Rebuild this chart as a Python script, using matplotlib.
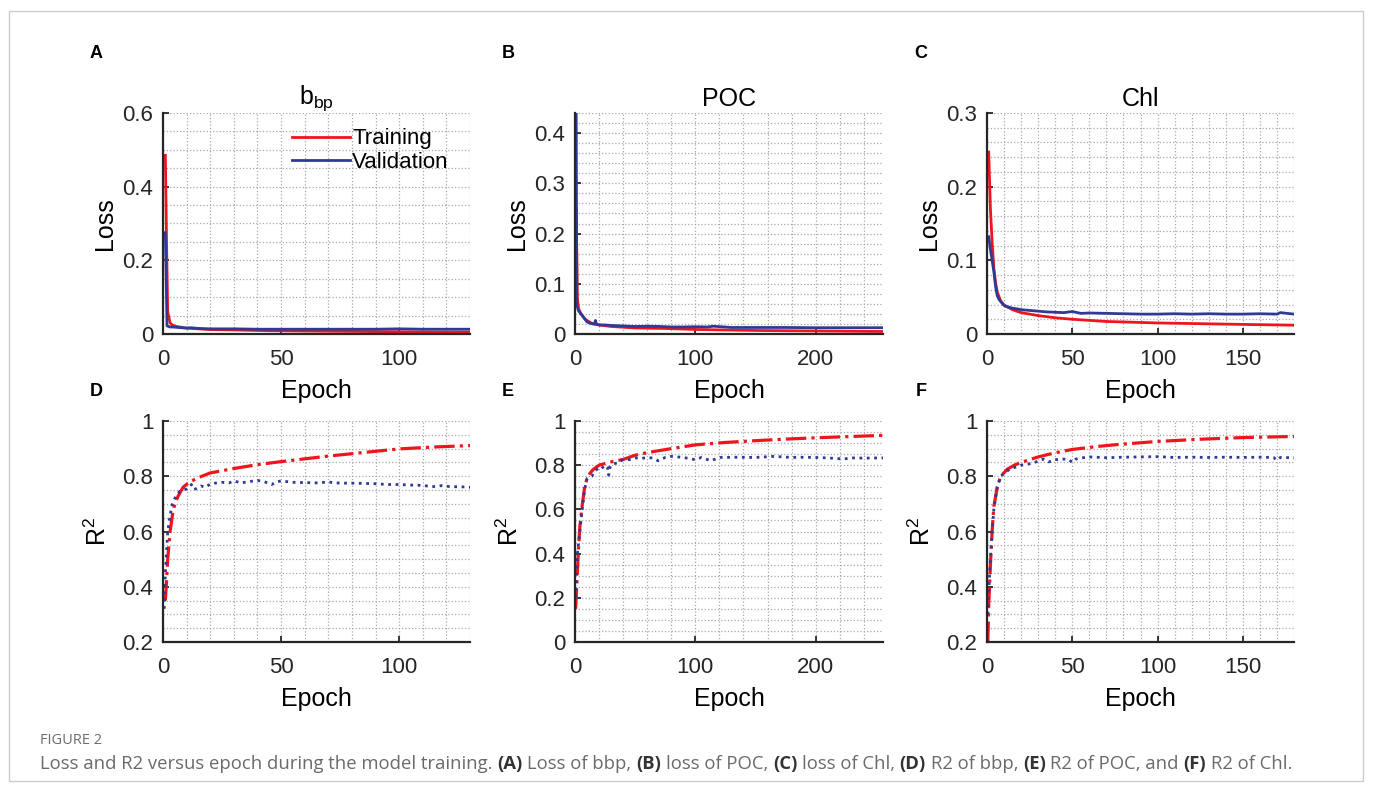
"""Loss and R2 versus epoch for the bbp / POC / Chl models (six-panel figure)."""

import matplotlib

matplotlib.use("Agg")

import matplotlib.pyplot as plt
from matplotlib.patches import Rectangle
from matplotlib.ticker import MultipleLocator

# ── Data ─────────────────────────────────────────────────────────────────────

# (A) loss of bbp
A_TRAIN_EP = [1, 1.5, 2, 3, 4, 6, 10, 15, 20, 30, 45, 60, 80, 100, 115, 130]
A_TRAIN = [0.485, 0.25, 0.06, 0.03, 0.024, 0.02, 0.016, 0.014, 0.012, 0.011,
           0.009, 0.008, 0.007, 0.006, 0.0055, 0.005]
A_VAL_EP = [1, 1.7, 3, 4, 6, 8, 10, 12, 15, 20, 30, 40, 50, 60, 70, 80, 90,
            100, 110, 120, 130]
A_VAL = [0.275, 0.022, 0.019, 0.019, 0.018, 0.017, 0.016, 0.017, 0.015, 0.014,
         0.014, 0.013, 0.013, 0.013, 0.013, 0.013, 0.013, 0.014, 0.013, 0.013, 0.013]

# (B) loss of POC
B_TRAIN_EP = [1, 2, 3, 5, 8, 12, 15, 20, 30, 50, 75, 100, 150, 200, 256]
B_TRAIN = [0.25, 0.07, 0.05, 0.04, 0.03, 0.024, 0.02, 0.018, 0.015, 0.012,
           0.011, 0.009, 0.007, 0.006, 0.005]
B_VAL_EP = [1, 1.5, 3, 5, 7, 10, 13, 16, 17, 18, 20, 25, 30, 40, 50, 60, 70,
            80, 90, 100, 110, 115, 130, 150, 175, 200, 225, 256]
B_VAL = [0.44, 0.057, 0.046, 0.04, 0.034, 0.024, 0.021, 0.02, 0.027, 0.019,
         0.018, 0.018, 0.017, 0.016, 0.015, 0.0155, 0.015, 0.014, 0.014, 0.0145,
         0.014, 0.0155, 0.013, 0.013, 0.013, 0.0125, 0.0125, 0.0125]

# (C) loss of Chl
C_TRAIN_EP = [1, 2, 3, 4, 5, 6, 8, 10, 15, 20, 30, 40, 50, 70, 100, 125, 150, 180]
C_TRAIN = [0.247, 0.17, 0.125, 0.09, 0.07, 0.057, 0.045, 0.039, 0.033, 0.029,
           0.025, 0.022, 0.020, 0.017, 0.015, 0.014, 0.013, 0.012]
C_VAL_EP = [1, 2, 3, 4, 5, 6, 7, 8, 10, 12, 15, 18, 20, 25, 30, 35, 40, 45, 50,
            55, 60, 70, 80, 90, 100, 110, 120, 130, 140, 150, 160, 170, 172, 180]
C_VAL = [0.132, 0.115, 0.1, 0.085, 0.065, 0.052, 0.047, 0.044, 0.039, 0.037,
         0.035, 0.034, 0.033, 0.032, 0.031, 0.030, 0.0295, 0.029, 0.0305, 0.028,
         0.0285, 0.028, 0.0275, 0.027, 0.027, 0.0275, 0.027, 0.0275, 0.027, 0.027,
         0.0275, 0.027, 0.029, 0.027]

# (D) R2 of bbp
D_TRAIN_EP = [1, 1.5, 2, 3, 4, 5, 6.5, 8.5, 11, 15, 20, 30, 40, 50, 70, 85,
              100, 115, 130]
D_TRAIN = [0.35, 0.42, 0.5, 0.6, 0.66, 0.70, 0.73, 0.76, 0.778, 0.795, 0.812,
           0.828, 0.842, 0.853, 0.873, 0.886, 0.899, 0.906, 0.911]
D_VAL_EP = [0.5, 1, 2, 3, 4, 5, 7, 9, 10, 12, 13, 14, 16, 18, 20, 22, 25, 28,
            30, 33, 36, 40, 43, 46, 48, 50, 55, 60, 65, 70, 75, 80, 85, 90, 95,
            100, 105, 110, 114, 118, 122, 126, 130]
D_VAL = [0.32, 0.45, 0.6, 0.66, 0.7, 0.72, 0.745, 0.75, 0.755, 0.77, 0.752,
         0.755, 0.765, 0.76, 0.772, 0.775, 0.778, 0.776, 0.783, 0.776, 0.78,
         0.785, 0.78, 0.77, 0.78, 0.783, 0.778, 0.777, 0.776, 0.779, 0.775,
         0.775, 0.774, 0.773, 0.77, 0.77, 0.768, 0.767, 0.762, 0.766, 0.762,
         0.762, 0.76]

# (E) R2 of POC
E_TRAIN_EP = [0.5, 1, 2, 3, 4, 6, 8, 10, 12, 15, 20, 25, 30, 40, 50, 60, 80,
              100, 125, 150, 175, 200, 225, 256]
E_TRAIN = [0.15, 0.2, 0.32, 0.43, 0.52, 0.62, 0.7, 0.74, 0.76, 0.78, 0.8,
           0.808, 0.815, 0.826, 0.845, 0.857, 0.875, 0.892, 0.903, 0.911, 0.918,
           0.924, 0.929, 0.935]
E_VAL_EP = [0.5, 1, 2, 3, 4, 6, 8, 10, 12, 14, 16, 18, 20, 22, 25, 27, 28, 29,
            31, 35, 40, 45, 50, 55, 60, 65, 69, 75, 80, 90, 100, 105, 113, 120,
            135, 150, 165, 180, 190, 200, 210, 223, 230, 240, 256]
E_VAL = [0.2, 0.26, 0.4, 0.45, 0.5, 0.6, 0.69, 0.74, 0.745, 0.75, 0.77, 0.78,
         0.79, 0.785, 0.8, 0.79, 0.755, 0.79, 0.805, 0.81, 0.825, 0.825, 0.833,
         0.83, 0.835, 0.832, 0.82, 0.835, 0.84, 0.835, 0.825, 0.835, 0.82,
         0.835, 0.836, 0.835, 0.84, 0.835, 0.836, 0.835, 0.833, 0.828, 0.833,
         0.832, 0.833]

# (F) R2 of Chl
F_TRAIN_EP = [0.5, 1, 2, 3, 4, 6, 8, 12, 16, 20, 30, 40, 50, 65, 77, 100, 125,
              150, 180]
F_TRAIN = [0.2, 0.33, 0.48, 0.6, 0.69, 0.76, 0.80, 0.826, 0.84, 0.85, 0.87,
           0.885, 0.897, 0.908, 0.915, 0.926, 0.934, 0.94, 0.944]
F_VAL_EP = [0.5, 1, 2, 3, 4, 6, 8, 10, 12, 15, 18, 20, 23, 25, 28, 30, 33, 36,
            38, 40, 45, 48, 50, 52, 55, 60, 70, 80, 90, 100, 110, 120, 130, 140,
            150, 160, 168, 170, 172, 180]
F_VAL = [0.3, 0.38, 0.5, 0.6, 0.68, 0.76, 0.8, 0.81, 0.82, 0.83, 0.835, 0.84,
         0.843, 0.845, 0.85, 0.855, 0.862, 0.852, 0.855, 0.86, 0.862, 0.86,
         0.85, 0.862, 0.866, 0.87, 0.867, 0.869, 0.87, 0.871, 0.868, 0.869,
         0.868, 0.869, 0.868, 0.869, 0.868, 0.858, 0.868, 0.867]

PANEL_LETTERS = ["A", "B", "C", "D", "E", "F"]
TITLES = ["b$_{bp}$", "POC", "Chl"]
CAPTION_HEAD = "FIGURE 2"
# (text, bold) pieces of the caption
CAPTION_PARTS = [
    ("Loss and R2 versus epoch during the model training.", False),
    ("(A)", True), ("Loss of bbp,", False),
    ("(B)", True), ("loss of POC,", False),
    ("(C)", True), ("loss of Chl,", False),
    ("(D)", True), ("R2 of bbp,", False),
    ("(E)", True), ("R2 of POC, and", False),
    ("(F)", True), ("R2 of Chl.", False),
]

RED = "#f0141e"
BLUE = "#2e3a96"
GRID = "#a9a9a9"

plt.rcParams["font.family"] = ["Liberation Sans", "DejaVu Sans"]
plt.rcParams["mathtext.fontset"] = "custom"
plt.rcParams["mathtext.rm"] = "Liberation Sans"
plt.rcParams["mathtext.it"] = "Liberation Sans:italic"
plt.rcParams["mathtext.default"] = "regular"


def style_axes(ax, xmax, xmajor, xminor, ylim, ymajor, yminor):
    ax.set_xlim(0, xmax)
    ax.set_ylim(*ylim)
    ax.xaxis.set_major_locator(MultipleLocator(xmajor))
    ax.xaxis.set_minor_locator(MultipleLocator(xminor))
    ax.yaxis.set_major_locator(MultipleLocator(ymajor))
    ax.yaxis.set_minor_locator(MultipleLocator(yminor))
    ax.yaxis.set_major_formatter(
        matplotlib.ticker.FuncFormatter(lambda v, _: f"{v:g}")
    )
    ax.grid(which="both", linestyle=":", color=GRID, linewidth=0.9)
    ax.set_axisbelow(True)
    ax.spines[["top", "right"]].set_visible(False)
    ax.spines[["left", "bottom"]].set_linewidth(1.6)
    ax.spines[["left", "bottom"]].set_color("#262626")
    ax.tick_params(which="major", direction="in", length=4, width=1.3,
                   labelsize=16, colors="#262626")
    ax.tick_params(axis="x", which="major", pad=11)
    ax.tick_params(axis="y", which="major", pad=7)
    ax.tick_params(which="minor", length=0)
    ax.set_xlabel("Epoch", fontsize=18, labelpad=6)


def main() -> None:
    fig = plt.figure(figsize=(13.75, 7.93), dpi=100)
    W, H = 1375, 793

    # light frame around the whole figure
    fig.patches.append(Rectangle((9 / W, 1 - 781 / H), (1363 - 9) / W, (781 - 11) / H,
                                 transform=fig.transFigure, fill=False,
                                 edgecolor="#cccccc", linewidth=1.0))

    lefts = [163, 575, 987]
    widths = [307, 308, 307]
    tops = [113, 421]
    height = 221

    loss_specs = [
        (A_TRAIN_EP, A_TRAIN, A_VAL_EP, A_VAL, 130, 50, 10, (0, 0.6), 0.2, 0.05),
        (B_TRAIN_EP, B_TRAIN, B_VAL_EP, B_VAL, 256, 100, 20, (0, 0.44), 0.1, 0.02),
        (C_TRAIN_EP, C_TRAIN, C_VAL_EP, C_VAL, 180, 50, 10, (0, 0.3), 0.1, 0.02),
    ]
    r2_specs = [
        (D_TRAIN_EP, D_TRAIN, D_VAL_EP, D_VAL, 130, 50, 10, (0.2, 1), 0.2, 0.05),
        (E_TRAIN_EP, E_TRAIN, E_VAL_EP, E_VAL, 256, 100, 20, (0, 1), 0.2, 0.05),
        (F_TRAIN_EP, F_TRAIN, F_VAL_EP, F_VAL, 180, 50, 10, (0.2, 1), 0.2, 0.05),
    ]

    # ── Row 1: loss ──────────────────────────────────────────────────────────
    for i, spec in enumerate(loss_specs):
        tr_ep, tr, va_ep, va, xmax, xmaj, xmin, ylim, ymaj, ymin = spec
        ax = fig.add_axes([lefts[i] / W, 1 - (tops[0] + height) / H,
                           widths[i] / W, height / H])
        ax.plot(tr_ep, tr, color=RED, linewidth=2.0, label="Training")
        ax.plot(va_ep, va, color=BLUE, linewidth=2.0, label="Validation")
        style_axes(ax, xmax, xmaj, xmin, ylim, ymaj, ymin)
        ax.set_ylabel("Loss", fontsize=18, labelpad=4)
        ax.set_title(TITLES[i], fontsize=18, pad=5)
        if i == 0:
            ax.legend(loc="upper left", bbox_to_anchor=(0.42, 0.93), frameon=False,
                      fontsize=16, handlelength=2.6, handletextpad=0.12,
                      borderpad=0, borderaxespad=0, labelspacing=0.1)

    # ── Row 2: R2 ────────────────────────────────────────────────────────────
    for i, spec in enumerate(r2_specs):
        tr_ep, tr, va_ep, va, xmax, xmaj, xmin, ylim, ymaj, ymin = spec
        ax = fig.add_axes([lefts[i] / W, 1 - (tops[1] + height) / H,
                           widths[i] / W, height / H])
        ax.plot(tr_ep, tr, color=RED, linewidth=2.3, linestyle="-.")
        ax.plot(va_ep, va, color=BLUE, linewidth=2.0, linestyle=":")
        style_axes(ax, xmax, xmaj, xmin, ylim, ymaj, ymin)
        ax.set_ylabel("R$^2$", fontsize=18, labelpad=8)

    # panel letters
    letter_pos = [(96, 54), (508, 54), (921, 54), (96, 392), (508, 392), (921, 392)]
    for letter, (px, py) in zip(PANEL_LETTERS, letter_pos):
        fig.text(px / W, 1 - py / H, letter, fontsize=13, fontweight="bold",
                 ha="center", va="center")

    # ── Caption ──────────────────────────────────────────────────────────────
    cap_font = ["Open Sans", "DejaVu Sans"]
    cap_size = 13.3
    fig.text(40 / W, 1 - 741 / H, CAPTION_HEAD, fontsize=10.5, color="#6d6d6d",
             family=cap_font, va="center")
    renderer = fig.canvas.get_renderer()
    probe = fig.text(0, 0, "a a", fontsize=cap_size, family=cap_font)
    probe2 = fig.text(0, 0, "aa", fontsize=cap_size, family=cap_font)
    space_w = (probe.get_window_extent(renderer).width
               - probe2.get_window_extent(renderer).width)
    probe.remove()
    probe2.remove()
    x = 40.0
    for text, bold in CAPTION_PARTS:
        t = fig.text(x / W, 1 - 764 / H, text, fontsize=cap_size, family=cap_font,
                     color="#333333" if bold else "#6a6a6a",
                     fontweight="bold" if bold else "normal", va="center")
        x += t.get_window_extent(renderer).width + space_w

    fig.savefig("out.png", dpi=100)
    plt.close(fig)


if __name__ == "__main__":
    main()
